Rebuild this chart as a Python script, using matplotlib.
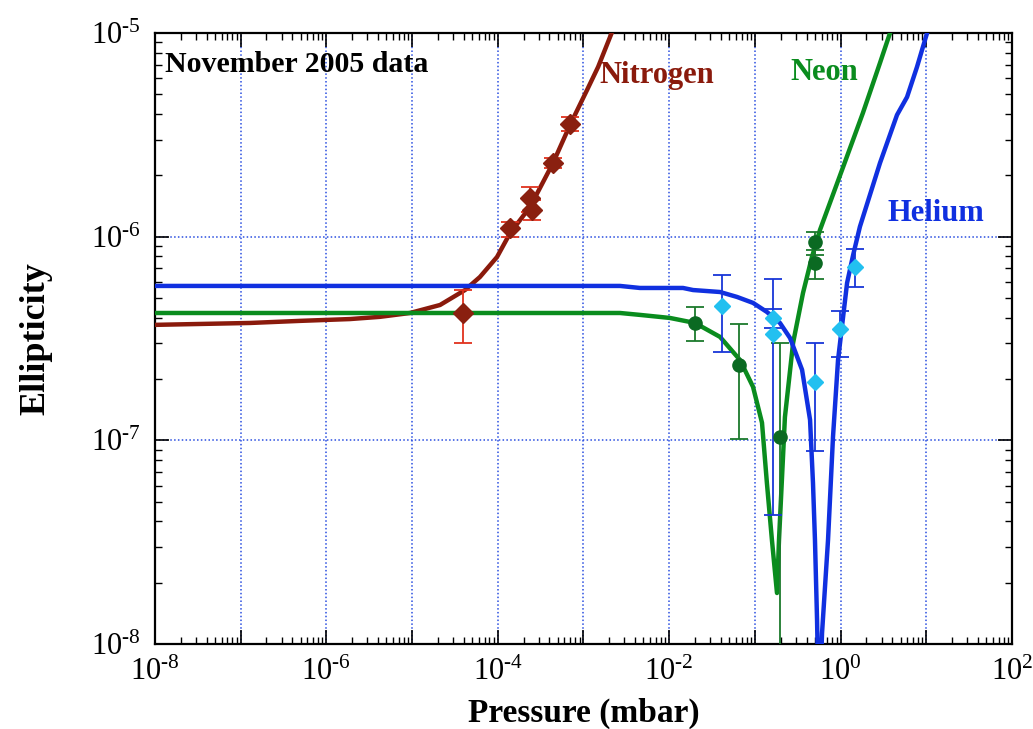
import matplotlib
matplotlib.use("Agg")
import matplotlib.pyplot as plt
from matplotlib.ticker import LogLocator, FuncFormatter, NullFormatter
import numpy as np

plt.rcParams['font.family'] = ['Liberation Serif', 'DejaVu Serif']
plt.rcParams['mathtext.fontset'] = 'custom'
plt.rcParams['mathtext.rm'] = 'Liberation Serif'
plt.rcParams['mathtext.it'] = 'Liberation Serif:italic'
plt.rcParams['mathtext.bf'] = 'Liberation Serif:bold'

# ---- fit curves (pressure in mbar, ellipticity) ----
n2_curve_p = [1e-8, 1.29e-7, 4.92e-7, 1.88e-6, 4.21e-6, 9.46e-6, 2.12e-5, 4.14e-5,
              6.19e-5, 9.80e-5, 1.39e-4, 2.38e-4, 4.41e-4, 6.95e-4, 1.10e-3, 1.48e-3, 2.15e-3]
n2_curve_e = [3.69e-7, 3.77e-7, 3.86e-7, 3.94e-7, 4.04e-7, 4.22e-7, 4.62e-7, 5.47e-7,
              6.34e-7, 7.95e-7, 1.04e-6, 1.40e-6, 2.30e-6, 3.53e-6, 5.25e-6, 6.81e-6, 1.01e-5]

ne_curve_p = [1e-8, 2.67e-3, 4.56e-3, 1.02e-2, 2.00e-2, 3.92e-2, 6.70e-2, 9.51e-2, 0.121,
              0.138, 0.158, 0.181, 0.191, 0.224, 0.279, 0.364, 0.463, 0.575, 1.07, 1.82,
              2.88, 3.77]
ne_curve_e = [4.22e-7, 4.22e-7, 4.13e-7, 3.99e-7, 3.77e-7, 3.22e-7, 2.48e-7, 1.83e-7, 1.22e-7,
              6.18e-8, 3.24e-8, 1.78e-8, 3.24e-8, 1.30e-7, 3.01e-7, 5.29e-7, 7.95e-7, 1.08e-6,
              2.20e-6, 4.05e-6, 7.13e-6, 1.0e-5]

he_curve_p = [1e-8, 2.67e-3, 4.56e-3, 1.45e-2, 1.90e-2, 3.92e-2, 6.18e-2, 9.51e-2, 0.138,
              0.196, 0.257, 0.355, 0.440, 0.476, 0.502, 0.531, 0.560, 0.607, 0.713, 0.815,
              0.933, 1.19, 1.40, 1.68, 2.88, 4.55, 5.96, 7.78, 10.2]
he_curve_e = [5.73e-7, 5.73e-7, 5.60e-7, 5.60e-7, 5.47e-7, 5.35e-7, 5.06e-7, 4.73e-7, 4.27e-7,
              3.77e-7, 3.18e-7, 2.22e-7, 1.26e-7, 6.18e-8, 3.24e-8, 1.31e-8, 4e-9, 1.13e-8,
              3.24e-8, 1.04e-7, 2.48e-7, 5.93e-7, 8.13e-7, 1.12e-6, 2.30e-6, 3.96e-6, 4.85e-6,
              6.81e-6, 1.0e-5]

# ---- measured points with error bars ----
n2_p = [3.93e-5, 1.39e-4, 2.38e-4, 2.51e-4, 4.41e-4, 6.95e-4]
n2_e = [4.22e-7, 1.10e-6, 1.55e-6, 1.35e-6, 2.30e-6, 3.57e-6]
n2_hi = [5.47e-7, 1.18e-6, 1.75e-6, 1.51e-6, 2.43e-6, 3.87e-6]
n2_lo = [3.01e-7, 9.97e-7, 1.32e-6, 1.21e-6, 2.17e-6, 3.30e-6]

ne_p = [2.00e-2, 6.52e-2, 0.196, 0.502, 0.502]
ne_e = [3.77e-7, 2.34e-7, 1.04e-7, 9.42e-7, 7.43e-7]
ne_hi = [4.52e-7, 3.73e-7, 3.01e-7, 1.05e-6, 8.61e-7]
ne_lo = [3.08e-7, 1.02e-7, 1e-9, 8.13e-7, 6.20e-7]

he_p = [4.13e-2, 0.163, 0.163, 0.502, 0.984, 1.47]
he_e = [4.57e-7, 3.99e-7, 3.33e-7, 1.94e-7, 3.52e-7, 7.10e-7]
he_hi = [6.49e-7, 4.42e-7, 6.20e-7, 3.01e-7, 4.32e-7, 8.71e-7]
he_lo = [2.72e-7, 3.56e-7, 4.30e-8, 8.87e-8, 2.57e-7, 5.66e-7]

N2_LINE, N2_MARK, N2_ERR = '#8a1a0c', '#8a2010', '#e0321e'
NE_LINE, NE_MARK, NE_ERR = '#0a8c1e', '#0b6a22', '#1b7a2c'
HE_LINE, HE_MARK, HE_ERR = '#1030e0', '#22c0f0', '#1836d8'
GRID = '#2a4ee0'


def err(vals, hi, lo):
    v = np.array(vals)
    return [v - np.array(lo), np.array(hi) - v]


def pow_label(v):
    e = int(round(np.log10(v)))
    s = str(e).replace('-', '\u2010')
    return r'$10^{%s}$' % s


fig = plt.figure(figsize=(10.33, 7.29), dpi=100)
ax = fig.add_axes([0.150, 0.1166, 0.8297, 0.8381])

ax.set_xscale('log')
ax.set_yscale('log')
ax.set_xlim(1e-8, 1e2)
ax.set_ylim(1e-8, 1e-5)

# curves
ax.plot(n2_curve_p, n2_curve_e, color=N2_LINE, lw=3.2, zorder=3)
ax.plot(ne_curve_p, ne_curve_e, color=NE_LINE, lw=3.2, zorder=3)
ax.plot(he_curve_p, he_curve_e, color=HE_LINE, lw=3.2, zorder=3)

# data
ax.errorbar(n2_p, n2_e, yerr=err(n2_e, n2_hi, n2_lo), fmt='D', color=N2_MARK, ms=10,
            ecolor=N2_ERR, elinewidth=1.3, capsize=6.5, capthick=1.3, zorder=4)
ax.errorbar(ne_p, ne_e, yerr=err(ne_e, ne_hi, ne_lo), fmt='o', color=NE_MARK, ms=9.5,
            ecolor=NE_ERR, elinewidth=1.3, capsize=6.5, capthick=1.3, zorder=4)
ax.errorbar(he_p, he_e, yerr=err(he_e, he_hi, he_lo), fmt='D', color=HE_MARK, ms=8.5,
            ecolor=HE_ERR, elinewidth=1.3, capsize=6.5, capthick=1.3, zorder=4)

# ticks / grid
ax.xaxis.set_major_locator(LogLocator(base=10, numticks=100))
ax.xaxis.set_minor_locator(LogLocator(base=10, subs=np.arange(2, 10), numticks=100))
ax.yaxis.set_major_locator(LogLocator(base=10, numticks=100))
ax.yaxis.set_minor_locator(LogLocator(base=10, subs=np.arange(2, 10), numticks=100))


def xfmt(v, pos):
    e = int(round(np.log10(v)))
    return pow_label(v) if e % 2 == 0 else ''


ax.xaxis.set_major_formatter(FuncFormatter(xfmt))
ax.yaxis.set_major_formatter(FuncFormatter(lambda v, pos: pow_label(v)))
ax.xaxis.set_minor_formatter(NullFormatter())
ax.yaxis.set_minor_formatter(NullFormatter())

ax.tick_params(which='both', direction='in', top=True, right=True, labelsize=22, color='black')
ax.tick_params(which='major', length=10, width=1.2, pad=10)
ax.tick_params(which='minor', length=5, width=1)
ax.grid(True, which='major', color=GRID, linestyle=(0, (1, 1.5)), lw=1.1)
for s in ax.spines.values():
    s.set_linewidth(1.6)

ax.set_xlabel('Pressure (mbar)', fontsize=24, fontweight='bold', labelpad=8)
ax.set_ylabel('Ellipticity', fontsize=26, fontweight='bold', labelpad=28)

ax.text(0.012, 0.948, 'November 2005 data', transform=ax.transAxes, fontsize=21.5,
        fontweight='bold', ha='left', va='center', color='black')
ax.text(0.519, 0.931, 'Nitrogen', transform=ax.transAxes, fontsize=22,
        fontweight='bold', ha='left', va='center', color=N2_LINE)
ax.text(0.741, 0.935, 'Neon', transform=ax.transAxes, fontsize=22,
        fontweight='bold', ha='left', va='center', color=NE_LINE)
ax.text(0.855, 0.705, 'Helium', transform=ax.transAxes, fontsize=22,
        fontweight='bold', ha='left', va='center', color=HE_LINE)

fig.savefig('out.png', dpi=100)
